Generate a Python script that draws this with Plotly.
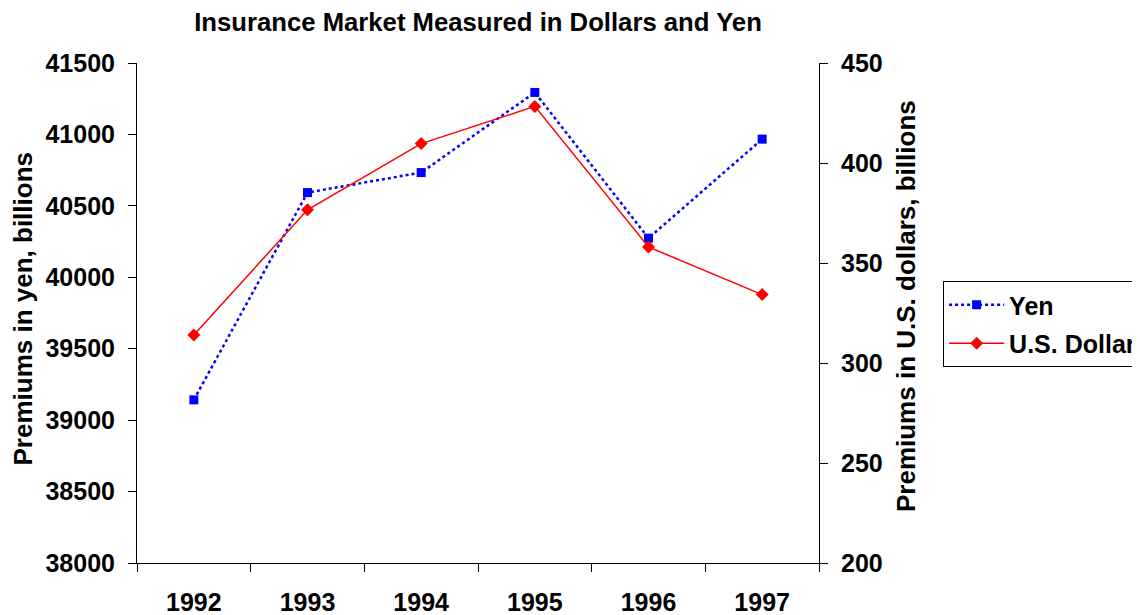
import plotly.graph_objects as go

years = ["1992", "1993", "1994", "1995", "1996", "1997"]
yen = [39142, 40593, 40733, 41294, 40274, 40967]
dollars = [314, 376.6, 409.7, 428.3, 358, 334.2]

yen_ticks = [38000, 38500, 39000, 39500, 40000, 40500, 41000, 41500]
usd_ticks = [200, 250, 300, 350, 400, 450]

FONT = "Liberation Sans, Arial, sans-serif"
FS = 25

fig = go.Figure()
fig.add_trace(go.Scatter(
    x=years, y=yen, name="Yen", mode="lines+markers",
    line=dict(color="#0000FF", width=2.5, dash="dot"),
    marker=dict(symbol="square", size=9, color="#0000FF"),
    yaxis="y", legendgroup="a",
))
fig.add_trace(go.Scatter(
    x=years, y=dollars, name="U.S. Dollars", mode="lines+markers",
    line=dict(color="#FF0000", width=1.5),
    marker=dict(symbol="diamond", size=10, color="#FF0000"),
    yaxis="y2", legendgroup="b",
))

axfont = dict(family=FONT, size=FS, color="black", weight="bold")
ttlfont = dict(family=FONT, size=26, color="black", weight="bold")

# page body has an 8px margin, so the figure is sized/placed to compensate
fig.update_layout(
    width=1132, height=607,
    margin=dict(l=129, r=321, t=55, b=52, autoexpand=False),
    paper_bgcolor="white", plot_bgcolor="white",
    showlegend=True,
    title=dict(text="Insurance Market Measured in Dollars and Yen",
               font=dict(family=FONT, size=25.7, color="black", weight="bold"),
               x=0.5, xref="paper", xanchor="center", y=0.977, yanchor="middle"),
    xaxis=dict(type="category", showline=True, linecolor="black", linewidth=1,
               ticks="outside", ticklen=8, tickcolor="black", tickwidth=1,
               tickson="boundaries", showgrid=False, zeroline=False,
               tickfont=axfont, ticklabelstandoff=17, range=[-0.5, 5.5]),
    xaxis2=dict(overlaying="x", anchor="y", side="bottom", range=[-0.5, 5.5],
                tickvals=[-0.5, 0.5, 1.5, 2.5, 3.5, 4.5, 5.5], ticks="inside",
                ticklen=9, tickcolor="black", tickwidth=1, showticklabels=False,
                showline=False, showgrid=False, zeroline=False),
    yaxis=dict(range=[38000, 41500], tickvals=yen_ticks, tickformat="d", showline=True,
               linecolor="black", linewidth=1, ticks="outside", ticklen=8,
               tickcolor="black", tickwidth=1, showgrid=False, zeroline=False,
               tickfont=axfont, ticklabelstandoff=8),
    yaxis2=dict(range=[200, 450], tickvals=usd_ticks, tickformat="d", overlaying="y",
                side="right", anchor="x", showline=True, linecolor="black", linewidth=1,
                ticks="outside", ticklen=8, tickcolor="black", tickwidth=1,
                showgrid=False, zeroline=False, tickfont=axfont, ticklabelstandoff=8),
    yaxis3=dict(range=[38000, 41500], tickvals=yen_ticks, overlaying="y", side="left",
                anchor="x", ticks="inside", ticklen=9, tickcolor="black", tickwidth=1,
                showticklabels=False, showline=False, showgrid=False, zeroline=False),
    yaxis4=dict(range=[200, 450], tickvals=usd_ticks, overlaying="y", side="right",
                anchor="x", ticks="inside", ticklen=9, tickcolor="black", tickwidth=1,
                showticklabels=False, showline=False, showgrid=False, zeroline=False),
    legend=dict(x=1.182, y=0.564, xanchor="left", yanchor="top",
                bordercolor="black", borderwidth=1, bgcolor="white",
                font=dict(family=FONT, size=FS, color="black", weight="bold"),
                itemwidth=55, tracegroupgap=3, traceorder="grouped"),
    annotations=[
        dict(text="Premiums in yen, billions", textangle=-90, xref="paper", yref="paper",
             x=-0.1686, y=0.509, xanchor="center", yanchor="middle", showarrow=False,
             font=ttlfont),
        dict(text="Premiums in U.S. dollars, billions", textangle=-90, xref="paper",
             yref="paper", x=1.1276, y=0.514, xanchor="center", yanchor="middle",
             showarrow=False, font=ttlfont),
    ],
)

fig.write_html("out.html")
